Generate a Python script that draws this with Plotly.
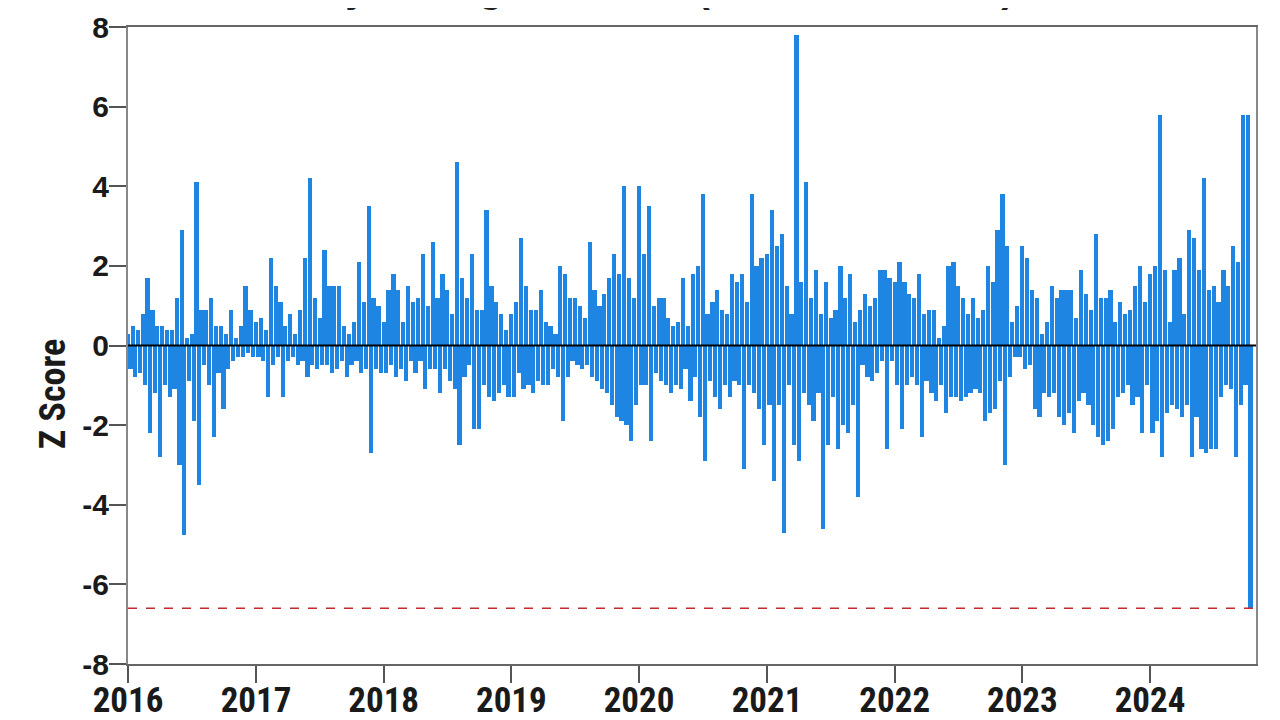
import pandas as pd
import plotly.graph_objects as go

# weekly z-score readings, one list per year
z_2016 = [0.3, -0.6, 0.5, -0.8, 0.4, -0.7, 0.8, -1.0, 1.7, -2.2, 0.9, -1.2, 0.5, -2.8,
          0.5, -1.0, 0.4, -1.3, 0.4, -1.1, 1.2, -3.0, 2.9, -4.75, 0.2, -0.9, 0.3, -1.9,
          4.1, -3.5, 0.9, -0.5, 0.9, -1.0, 1.2, -2.3, 0.5, -0.7, 0.5, -1.6, 0.3, -0.6,
          0.9, -0.4, 0.2, -0.3, 0.5, -0.3, 1.5, -0.2, 0.9, -0.3]
z_2017 = [0.6, -0.3, 0.7, -0.4, 0.4, -1.3, 2.2, -0.5, 1.5, -0.3, 1.1, -1.3, 0.5, -0.4,
          0.8, -0.3, 0.3, -0.5, 0.9, -0.4, 2.2, -0.8, 4.2, -0.5, 1.2, -0.6, 0.7, -0.5,
          2.4, -0.5, 1.5, -0.7, 1.5, -0.6, 1.5, -0.4, 0.5, -0.8, 0.3, -0.5, 0.6, -0.4,
          2.1, -0.7, 1.1, -0.6, 3.5, -2.7, 1.2, -0.6, 1.0, -0.7]
z_2018 = [0.6, -0.7, 1.4, -0.5, 1.8, -0.8, 1.4, -0.6, 0.6, -0.9, 1.5, -0.4, 1.1, -0.7,
          1.2, -0.4, 2.3, -1.1, 1.0, -0.6, 2.6, -0.6, 1.2, -1.2, 1.8, -0.6, 1.4, -0.9,
          0.8, -1.1, 4.6, -2.5, 1.7, -0.8, 1.2, -0.5, 2.3, -2.1, 0.9, -2.1, 0.9, -1.0,
          3.4, -1.3, 1.5, -1.4, 1.1, -1.2, 0.8, -1.0, 0.4, -1.3]
z_2019 = [0.8, -1.3, 1.1, -0.7, 2.7, -1.1, 1.5, -1.0, 0.9, -1.2, 0.9, -0.9, 1.4, -1.0,
          0.6, -1.0, 0.5, -0.6, 0.3, -0.8, 2.0, -1.9, 1.8, -0.8, 1.2, -0.4, 1.2, -0.5,
          1.0, -0.6, 0.7, -0.5, 2.6, -0.8, 1.4, -0.9, 1.0, -1.1, 1.3, -1.2, 1.7, -1.5,
          2.3, -1.8, 1.8, -1.9, 4.0, -2.0, 1.7, -2.4, 1.2, -1.5]
z_2020 = [4.0, -1.0, 2.3, -1.0, 3.5, -2.4, 1.0, -0.7, 1.2, -0.9, 1.2, -1.0, 0.7, -1.2,
          0.5, -1.0, 0.6, -1.1, 1.7, -0.6, 0.5, -1.4, 1.8, -0.8, 2.0, -1.8, 3.8, -2.9,
          0.8, -0.9, 1.1, -1.3, 1.4, -1.6, 0.9, -1.0, 0.8, -1.3, 1.8, -0.9, 1.6, -1.0,
          1.8, -3.1, 1.1, -1.0, 3.8, -1.2, 2.0, -1.6, 2.2, -2.5]
z_2021 = [2.3, -1.5, 3.4, -3.4, 2.5, -1.5, 2.8, -4.7, 1.5, -1.0, 0.8, -2.5, 7.8, -2.9,
          1.6, -1.2, 4.1, -1.5, 1.2, -1.9, 1.9, -1.2, 0.8, -4.6, 1.6, -2.5, 0.7, -1.3,
          0.9, -2.6, 2.0, -2.0, 1.2, -2.2, 1.8, -1.5, 0.6, -3.8, 0.9, -0.5, 1.3, -0.8,
          1.0, -0.9, 1.2, -0.7, 1.9, -0.4, 1.9, -2.6, 1.7, -0.4]
z_2022 = [1.6, -1.0, 2.1, -2.1, 1.6, -1.0, 1.3, -0.8, 1.2, -1.0, 1.8, -2.3, 0.8, -0.9,
          0.9, -1.2, 0.9, -1.4, 0.2, -1.0, 0.5, -1.7, 2.0, -1.3, 2.1, -1.3, 1.5, -1.4,
          1.2, -1.3, 0.8, -1.2, 1.2, -1.1, 0.7, -1.2, 0.9, -1.9, 2.0, -1.7, 1.6, -1.6,
          2.9, -0.9, 3.8, -3.0, 2.5, -0.8, 0.6, -0.3, 1.0, -0.3]
z_2023 = [2.5, -0.6, 2.2, -0.5, 1.4, -1.6, 1.2, -1.8, 0.3, -1.2, 0.6, -1.3, 1.5, -1.2,
          1.2, -1.8, 1.4, -2.0, 1.4, -1.7, 1.4, -2.2, 0.7, -1.4, 1.9, -1.2, 1.3, -1.5,
          0.9, -2.0, 2.8, -2.3, 1.2, -2.5, 1.2, -2.4, 1.4, -2.1, 0.6, -1.3, 1.1, -1.2,
          0.8, -1.0, 0.9, -1.5, 1.5, -1.3, 2.0, -2.2, 1.1, -1.0]
z_2024 = [1.8, -2.2, 2.0, -1.9, 5.8, -2.8, 1.9, -1.7, 0.6, -1.5, 1.9, -1.6, 2.2, -1.8,
          0.8, -1.5, 2.9, -2.8, 2.7, -1.8, 1.9, -2.6, 4.2, -2.7, 1.4, -2.6, 1.5, -2.6,
          1.1, -1.3, 1.9, -1.0, 1.5, -1.1, 2.5, -2.8, 2.1, -1.5, 5.8, -1.0, 5.8, -6.6]

years = [2016, 2017, 2018, 2019, 2020, 2021, 2022, 2023, 2024]
series = [z_2016, z_2017, z_2018, z_2019, z_2020, z_2021, z_2022, z_2023, z_2024]
y_ticks = [-8, -6, -4, -2, 0, 2, 4, 6, 8]

dates, zs = [], []
for yr, vals in zip(years, series):
    dates += list(pd.date_range(f"{yr}-01-01", periods=len(vals), freq="7D"))
    zs += vals

latest = zs[-1]
blue = "#1e86e2"
cond = "Roboto Condensed, Liberation Sans Narrow, DejaVu Sans Condensed, sans-serif"
arial = "Liberation Sans, Arial, sans-serif"
day_ms = 24 * 3600 * 1000

fig = go.Figure(go.Bar(
    x=dates, y=zs, width=12 * day_ms,
    marker=dict(color=blue, line_width=0),
    hoverinfo="skip", showlegend=False,
))
fig.add_hline(y=0, line=dict(color="black", width=2), layer="above")
fig.add_hline(y=latest, line=dict(color="#c42a2a", width=1.5, dash="dash"), layer="above")

fig.add_annotation(text="<b>Z Score</b>", textangle=-90, showarrow=False,
                   xref="paper", yref="paper", x=-0.0665, y=0.424,
                   xanchor="center", yanchor="middle",
                   font=dict(family=cond, size=36, color="#1a1a1a"))
# title sits mostly above the top edge, as in the source picture
fig.add_annotation(text="<b>Daily Change Z-Score (2016 - Oct 2024)</b>", showarrow=False,
                   xref="paper", yref="paper", x=0.4566, y=1.023, yanchor="bottom",
                   font=dict(family=arial, size=40, color="#222"))

fig.update_layout(
    width=1280, height=720,
    margin=dict(l=120, r=32, t=19, b=64),
    paper_bgcolor="white", plot_bgcolor="white",
    bargap=0,
)
fig.update_xaxes(
    range=["2016-01-01", "2024-10-30"], automargin=False,
    tickvals=[f"{y}-01-01" for y in years], ticktext=[f"<b>{y}</b>" for y in years],
    ticks="outside", ticklen=17, tickwidth=2, tickcolor="#555",
    ticklabelstandoff=-13,
    showline=True, linecolor="#666", linewidth=2, mirror=True,
    showgrid=False, zeroline=False,
    tickfont=dict(family=cond, size=35, color="#1a1a1a"),
)
fig.update_yaxes(
    range=[-8, 8], automargin=False,
    tickvals=y_ticks, ticktext=[f"<b>{v}</b>" for v in y_ticks],
    ticks="outside", ticklen=17, tickwidth=2, tickcolor="#555",
    ticklabelstandoff=-6,
    showline=True, linecolor="#888", linewidth=2, mirror=True,
    showgrid=False, zeroline=False,
    tickfont=dict(family=arial, size=30, color="#1a1a1a"),
)

fig.write_html("out.html")
